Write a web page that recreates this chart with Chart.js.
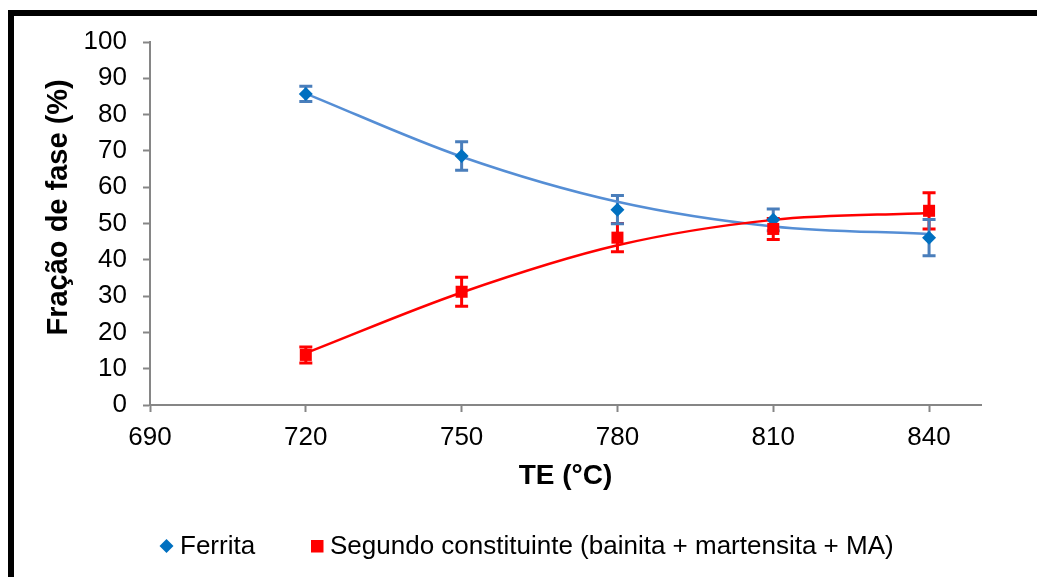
<!DOCTYPE html>
<html>
<head>
<meta charset="utf-8">
<script src="https://cdn.jsdelivr.net/npm/chart.js@4"></script>
<style>
  html, body { margin: 0; padding: 0; background: #fff; overflow: hidden; }
  #frame {
    position: absolute; left: 8px; top: 10px; right: -20px; bottom: -20px;
    border-left: 6px solid #000; border-top: 6px solid #000;
  }
  #chart { position: absolute; left: 0; top: 0; }
</style>
</head>
<body>
<div id="frame"></div>
<canvas id="chart" width="1037" height="577"></canvas>
<script>
// values
const temperatures = [720, 750, 780, 810, 840];
const ferrita = [85.7, 68.6, 53.8, 51.0, 46.1];
const ferritaErr = [2.1, 3.9, 3.9, 3.0, 5.0];
const segundo = [13.8, 31.2, 46.1, 48.5, 53.5];
const segundoErr = [2.2, 4.0, 3.9, 2.9, 5.0];
// polynomial trend lines, as read at each temperature
const ferritaTrend = [85.8, 68.4, 56.0, 49.2, 47.1];
const segundoTrend = [14.3, 31.0, 44.0, 51.0, 52.9];
const xTicks = [690, 720, 750, 780, 810, 840];

const legendLabels = ['Ferrita', 'Segundo constituinte (bainita + martensita + MA)'];
const blue = '#0070C0';
const blueError = '#4A7EBB';
const blueTrend = '#558ED5';
const red = '#FF0000';

function points(values) {
    return temperatures.map((t, i) => ({ x: t, y: values[i] }));
}

Chart.defaults.font.family = '"Liberation Sans", Arial, sans-serif';
Chart.defaults.color = '#000';

const errorBars = {
    id: 'errorBars',
    beforeDatasetsDraw(chart) {
        const { ctx, scales: { x, y } } = chart;
        chart.data.datasets.forEach(ds => {
            if (!ds.errors) return;
            ctx.save();
            ctx.strokeStyle = ds.errorColor;
            ctx.lineWidth = 3;
            ds.data.forEach((p, i) => {
                const px = x.getPixelForValue(p.x);
                const top = y.getPixelForValue(p.y + ds.errors[i]);
                const bottom = y.getPixelForValue(p.y - ds.errors[i]);
                ctx.beginPath();
                ctx.moveTo(px, top);
                ctx.lineTo(px, bottom);
                ctx.moveTo(px - 6.5, top);
                ctx.lineTo(px + 6.5, top);
                ctx.moveTo(px - 6.5, bottom);
                ctx.lineTo(px + 6.5, bottom);
                ctx.stroke();
            });
            ctx.restore();
        });
    }
};

const bottomLegend = {
    id: 'bottomLegend',
    afterDraw(chart) {
        const ctx = chart.ctx;
        const cy = 546;
        ctx.save();
        ctx.fillStyle = blue;
        ctx.beginPath();
        ctx.moveTo(166.5, cy - 7);
        ctx.lineTo(173.5, cy);
        ctx.lineTo(166.5, cy + 7);
        ctx.lineTo(159.5, cy);
        ctx.closePath();
        ctx.fill();
        ctx.fillStyle = red;
        ctx.fillRect(311, cy - 6, 12.5, 12.5);
        ctx.fillStyle = '#000';
        ctx.font = '26px "Liberation Sans", Arial, sans-serif';
        ctx.textBaseline = 'middle';
        ctx.fillText(legendLabels[0], 180, cy + 1);
        ctx.fillText(legendLabels[1], 330, cy + 1);
        ctx.restore();
    }
};

const axisGray = '#868686';

new Chart(document.getElementById('chart'), {
    type: 'scatter',
    data: {
        datasets: [
            {
                label: legendLabels[1],
                data: points(segundo),
                errors: segundoErr,
                errorColor: red,
                pointStyle: 'rect',
                pointRadius: 8.5,
                backgroundColor: red,
                borderWidth: 0
            },
            {
                label: legendLabels[0],
                data: points(ferrita),
                errors: ferritaErr,
                errorColor: blueError,
                pointStyle: 'rectRot',
                pointRadius: 7,
                backgroundColor: blue,
                borderWidth: 0
            },
            {
                label: 'trend segundo',
                data: points(segundoTrend),
                showLine: true,
                borderColor: red,
                borderWidth: 2.5,
                pointRadius: 0,
                cubicInterpolationMode: 'monotone'
            },
            {
                label: 'trend ferrita',
                data: points(ferritaTrend),
                showLine: true,
                borderColor: blueTrend,
                borderWidth: 2.5,
                pointRadius: 0,
                cubicInterpolationMode: 'monotone'
            }
        ]
    },
    options: {
        responsive: false,
        animation: false,
        events: [],
        layout: { padding: { left: 19, right: 0, top: 42, bottom: 72 } },
        plugins: {
            legend: { display: false },
            tooltip: { enabled: false }
        },
        scales: {
            x: {
                type: 'linear',
                min: 690,
                max: 850,
                afterBuildTicks: scale => {
                    scale.ticks = xTicks.map(v => ({ value: v }));
                },
                afterFit: scale => { scale.height = 100; },
                grid: { drawOnChartArea: false, tickLength: 7, tickWidth: 2, tickColor: axisGray },
                border: { color: axisGray, width: 2 },
                ticks: { font: { size: 26 }, padding: 10, autoSkip: false, maxRotation: 0 },
                title: {
                    display: true,
                    text: 'TE (°C)',
                    font: { size: 28, weight: 'bold' },
                    padding: { top: 0, bottom: 12 }
                }
            },
            y: {
                min: 0,
                max: 100,
                afterFit: scale => { scale.width = 131; },
                grid: { drawOnChartArea: false, tickLength: 7, tickWidth: 2, tickColor: axisGray },
                border: { color: axisGray, width: 2 },
                ticks: { stepSize: 10, font: { size: 26 }, padding: 16 },
                title: {
                    display: true,
                    text: '    Fração de fase (%)',
                    font: { size: 29, weight: 'bold' },
                    padding: { top: 23, bottom: 0 }
                }
            },
            yRight: {
                position: 'right',
                afterFit: scale => { scale.width = 56; },
                grid: { display: false },
                border: { display: false },
                ticks: { display: false }
            }
        }
    },
    plugins: [errorBars, bottomLegend]
});
</script>
</body>
</html>
